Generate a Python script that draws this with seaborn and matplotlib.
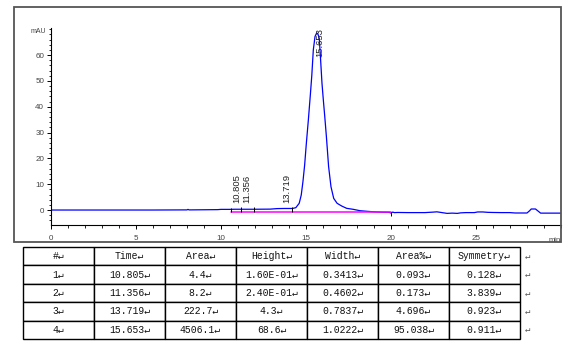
import matplotlib
matplotlib.use("Agg")
import matplotlib.pyplot as plt
from matplotlib.patches import Rectangle
from matplotlib.ticker import MultipleLocator
import numpy as np
import pandas as pd
import seaborn as sns

# ---------------- data ----------------
time_min = [0, 2, 4, 6, 7.9, 8.0, 8.06, 8.12, 8.2, 9, 9.8, 10.0, 10.5, 10.8, 11.36,
            12.0, 12.9, 13.3, 13.72, 14.2, 14.4, 14.6, 14.72, 14.82, 14.92, 15.02,
            15.14, 15.26, 15.34, 15.43, 15.53, 15.63, 15.7, 15.78, 15.86, 15.94, 16.02,
            16.1, 16.2, 16.33, 16.47, 16.63, 16.83, 17.1, 17.39, 17.78, 18.18, 18.6,
            19.0, 19.5, 19.9, 20.0, 20.1, 20.2, 20.4, 21.0, 22.0, 22.5, 22.7, 22.9,
            23.1, 23.3, 23.6, 23.9, 24.1, 24.4, 24.9, 25.1, 25.4, 25.7, 26.0, 26.5,
            27.0, 27.3, 28.0, 28.15, 28.25, 28.5, 28.65, 28.8, 29.2, 30]
signal_mau = [0, 0, 0, 0, 0.05, 0.05, 0.25, 0.05, 0.05, 0.1, 0.15, 0.25, 0.25, 0.3, 0.3,
              0.3, 0.35, 0.55, 0.6, 0.6, 0.9, 2.6, 5.8, 11, 17.4, 25.8,
              35, 45, 52, 62, 67.2, 68.6, 68.2, 66.5, 58.1, 49.1, 42.6,
              36.5, 28.4, 16.8, 9, 4.5, 2.6, 1.55, 0.66, 0.27, -0.27, -0.5,
              -0.7, -0.85, -0.9, -1.2, -0.8, -1.0, -0.95, -1.0, -1.0, -0.8, -0.7, -0.9,
              -1.1, -1.3, -1.2, -1.3, -1.1, -1.0, -1.0, -0.75, -0.75, -0.9, -0.95, -1.0,
              -1.0, -1.15, -1.15, -0.3, 0.4, 0.4, -0.4, -1.2, -1.2, -1.2]

peak_times = [10.805, 11.356, 13.719, 15.653]
peak_labels = ["10.805", "11.356", "13.719", "15.653"]
boundary_times = [10.57, 11.2, 11.96, 14.2]
baseline_times = [10.57, 20.0]
baseline_level = [-0.9, -0.9]

col_labels = ["#", "Time", "Area", "Height", "Width", "Area%", "Symmetry"]
col_no = ["1", "2", "3", "4"]
col_time = ["10.805", "11.356", "13.719", "15.653"]
col_area = ["4.4", "8.2", "222.7", "4506.1"]
col_height = ["1.60E-01", "2.40E-01", "4.3", "68.6"]
col_width = ["0.3413", "0.4602", "0.7837", "1.0222"]
col_areapct = ["0.093", "0.173", "4.696", "95.038"]
col_symmetry = ["0.128", "3.839", "0.923", "0.911"]

# ---------------- figure ----------------
sns.set_theme(style="white")
plt.rcParams["font.family"] = ["Liberation Sans", "DejaVu Sans"]

W, H = 574, 347
fig = plt.figure(figsize=(W / 100, H / 100), dpi=100)
fig.patch.set_facecolor("white")

def fx(px):
    return px / W

def fy(py):
    return 1 - py / H

# outer frame of the chromatogram
fig.patches.append(Rectangle((fx(14), fy(242)), fx(561) - fx(14), fy(7) - fy(242),
                             transform=fig.transFigure, fill=False,
                             edgecolor="#555555", linewidth=1.3))

ax = fig.add_axes([fx(51), fy(225), fx(561) - fx(51), fy(28) - fy(225)])
ax.set_facecolor("none")
df = pd.DataFrame({"t": time_min, "s": signal_mau})
sns.lineplot(data=df, x="t", y="s", ax=ax, color="#0000ff", linewidth=0.9,
             estimator=None, sort=False)
bdf = pd.DataFrame({"t": baseline_times, "s": baseline_level})
sns.lineplot(data=bdf, x="t", y="s", ax=ax, color="#ff00ff", linewidth=1.1,
             estimator=None, sort=False)

# boundary ticks
sig_at = np.interp(boundary_times, time_min, signal_mau)
ax.vlines(boundary_times, baseline_level[0], sig_at + 0.7, color="black", linewidth=0.7)
ax.vlines([baseline_times[1]], baseline_level[0] - 1.3, baseline_level[0],
          color="black", linewidth=0.7)

ax.set_xlim(0, 30)
ax.set_ylim(-5.8, 70.5)

# peak labels
for t, lab in zip(peak_times, peak_labels):
    h = float(np.interp(t, time_min, signal_mau))
    if h + 2.3 + 11 < 70.5:
        ax.text(t + 0.15, h + 2.3, lab, rotation=90, ha="center", va="bottom",
                fontsize=6.8, color="#222222")
    else:
        ax.text(t + 0.15, 70.5, lab, rotation=90, ha="center", va="top",
                fontsize=6.8, color="#222222")

for side in ["top", "right"]:
    ax.spines[side].set_visible(False)
for side in ["left", "bottom"]:
    ax.spines[side].set_color("black")
    ax.spines[side].set_linewidth(0.8)

ax.xaxis.set_major_locator(MultipleLocator(5))
ax.xaxis.set_minor_locator(MultipleLocator(1))
ax.yaxis.set_major_locator(MultipleLocator(10))
ax.yaxis.set_minor_locator(MultipleLocator(2))
ax.set_xticks([0, 5, 10, 15, 20, 25])
ax.set_yticks([0, 10, 20, 30, 40, 50, 60])
ax.tick_params(axis="both", which="major", direction="out", length=3, width=0.7,
               labelsize=5.8, labelcolor="#444444", color="black", pad=2)
ax.tick_params(axis="x", which="major", pad=4)
ax.tick_params(axis="both", which="minor", direction="out", length=1.8, width=0.6,
               color="black")
ax.tick_params(axis="x", which="both", bottom=True)
ax.tick_params(axis="y", which="both", left=True)
ax.set_xlabel("")
ax.set_ylabel("")
ax.text(-0.3, 69.3, "mAU", ha="right", va="center", fontsize=5, color="#444444")
ax.text(29.6, -5.8 - 4.6, "min", ha="center", va="top", fontsize=5.5, color="#444444")

# ---------------- table ----------------
tax = fig.add_axes([fx(23), fy(339), fx(520) - fx(23), fy(247) - fy(339)])
tax.axis("off")
mark = "\u21b5"
rows = [[c + mark for c in col_labels]]
for r in zip(col_no, col_time, col_area, col_height, col_width, col_areapct, col_symmetry):
    rows.append([c + mark for c in r])
tbl = tax.table(cellText=rows, cellLoc="center", bbox=[0, 0, 1, 1])
tbl.auto_set_font_size(False)
for (i, j), cell in tbl.get_celld().items():
    cell.set_edgecolor("black")
    cell.set_linewidth(1.0)
    cell.set_facecolor("white")
    cell.get_text().set_fontsize(7)
    cell.get_text().set_fontfamily(["Liberation Mono", "DejaVu Sans Mono"])
    cell.get_text().set_color("#111111")

row_edges = [247.3, 265.7, 284, 302.3, 320.7, 339]
for k in range(5):
    yc = (row_edges[k] + row_edges[k + 1]) / 2
    fig.text(fx(527), fy(yc), mark, ha="center", va="center", fontsize=6.5,
             family=["DejaVu Sans Mono"], color="#555555")

fig.savefig("out.png", dpi=100, facecolor="white")
